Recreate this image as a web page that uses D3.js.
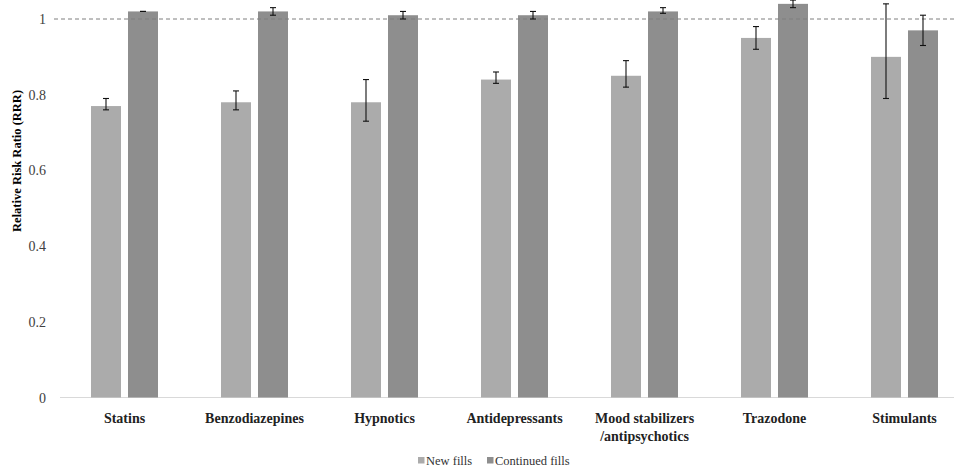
<!DOCTYPE html>
<html>
<head>
<meta charset="utf-8">
<script src="https://cdn.jsdelivr.net/npm/d3@7"></script>
<style>
  body { margin: 0; background: #fff; }
  svg { font-family: "Liberation Serif", "DejaVu Serif", serif; }
</style>
</head>
<body>
<div id="chart"></div>
<script>
const categories = ["Statins", "Benzodiazepines", "Hypnotics", "Antidepressants", "Mood stabilizers\n/antipsychotics", "Trazodone", "Stimulants"];
const series = ["New fills", "Continued fills"];
const newFills = [0.77, 0.78, 0.78, 0.84, 0.85, 0.95, 0.90];
const newLow = [0.76, 0.76, 0.73, 0.83, 0.82, 0.92, 0.79];
const newHigh = [0.79, 0.81, 0.84, 0.86, 0.89, 0.98, 1.04];
const contFills = [1.02, 1.02, 1.01, 1.01, 1.02, 1.04, 0.97];
const contLow = [1.02, 1.01, 1.00, 1.00, 1.015, 1.03, 0.93];
const contHigh = [1.02, 1.03, 1.02, 1.02, 1.03, 1.05, 1.01];
const yTicks = [0, 0.2, 0.4, 0.6, 0.8, 1];

const width = 954, height = 470;
const colors = ["#ababab", "#8e8e8e"];

const svg = d3.select("#chart").append("svg")
  .attr("width", width).attr("height", height);

const x = d3.scaleBand().domain(categories).range([59.5, 969.5]);
const y = d3.scaleLinear().domain([0, 1]).range([397.5, 19]);
const sub = d3.scaleBand().domain(series).range([-33.5, 33.5]).paddingInner(7 / 37);

// baseline
svg.append("line")
  .attr("x1", 60).attr("x2", width)
  .attr("y1", y(0)).attr("y2", y(0))
  .attr("stroke", "#d9d9d9").attr("stroke-width", 1);

// y tick labels
svg.append("g").selectAll("text")
  .data(yTicks).join("text")
  .attr("x", 46).attr("y", d => y(d) + 5)
  .attr("text-anchor", "end")
  .attr("font-size", 14).attr("fill", "#404040")
  .text(d => d3.format("~g")(d));

svg.append("text")
  .attr("transform", `translate(21,${y(0.625)}) rotate(-90)`)
  .attr("text-anchor", "middle")
  .attr("font-size", 12.5).attr("font-weight", "bold")
  .text("Relative Risk Ratio (RRR)");

const rows = categories.map((c, i) => [
  { c, s: series[0], v: newFills[i], lo: newLow[i], hi: newHigh[i] },
  { c, s: series[1], v: contFills[i], lo: contLow[i], hi: contHigh[i] }
]).flat();

const cx = d => x(d.c) + x.bandwidth() / 2 + sub(d.s);

svg.append("g").selectAll("rect")
  .data(rows).join("rect")
  .attr("x", d => cx(d))
  .attr("width", sub.bandwidth())
  .attr("y", d => y(d.v))
  .attr("height", d => y(0) - y(d.v))
  .attr("fill", d => colors[series.indexOf(d.s)]);

// reference line at 1
svg.append("line")
  .attr("x1", 54).attr("x2", width)
  .attr("y1", y(1)).attr("y2", y(1))
  .attr("stroke", "#7f7f7f").attr("stroke-width", 1)
  .attr("stroke-dasharray", "4,3");

// error bars
const eb = svg.append("g").selectAll("g")
  .data(rows).join("g")
  .attr("stroke", "#111").attr("stroke-width", 1.1);
const mid = d => cx(d) + sub.bandwidth() / 2;
eb.append("line")
  .attr("x1", mid).attr("x2", mid)
  .attr("y1", d => y(d.lo)).attr("y2", d => y(d.hi));
eb.append("line")
  .attr("x1", d => mid(d) - 3).attr("x2", d => mid(d) + 3)
  .attr("y1", d => y(d.lo)).attr("y2", d => y(d.lo));
eb.append("line")
  .attr("x1", d => mid(d) - 3).attr("x2", d => mid(d) + 3)
  .attr("y1", d => y(d.hi)).attr("y2", d => y(d.hi));

// category labels
const lab = svg.append("g").selectAll("text")
  .data(categories).join("text")
  .attr("text-anchor", "middle")
  .attr("font-size", 14).attr("font-weight", "bold").attr("fill", "#222")
  .attr("y", 423);
lab.selectAll("tspan")
  .data(d => d.split("\n").map(t => ({ t, c: d })))
  .join("tspan")
  .attr("x", d => x(d.c) + x.bandwidth() / 2)
  .attr("dy", (d, i) => i ? 18 : 0)
  .text(d => d.t);

// legend
const leg = svg.append("g").selectAll("g")
  .data(series).join("g")
  .attr("transform", (d, i) => `translate(${i ? 487 : 418},0)`);
leg.append("rect")
  .attr("y", 457).attr("width", 6.5).attr("height", 6.5)
  .attr("fill", (d, i) => colors[i]);
leg.append("text")
  .attr("x", 8).attr("y", 464.5)
  .attr("font-size", 12.5).attr("fill", "#333")
  .text(d => d);
</script>
</body>
</html>
